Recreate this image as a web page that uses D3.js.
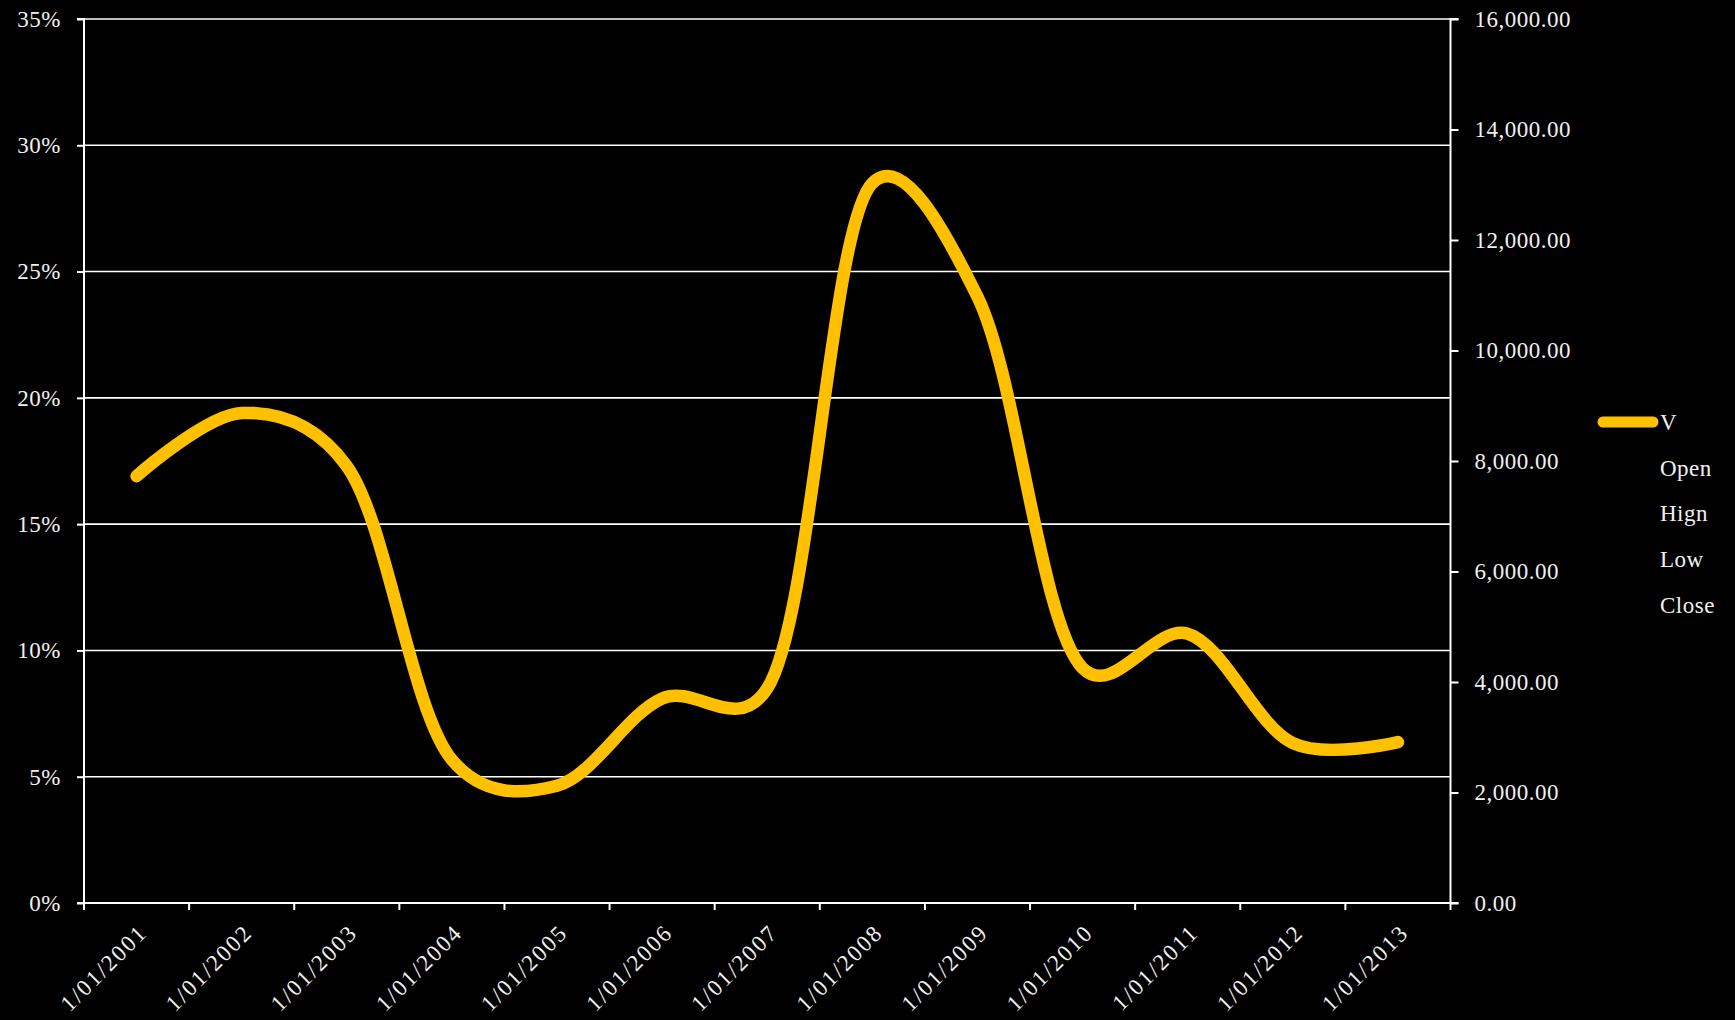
<!DOCTYPE html>
<html>
<head>
<meta charset="utf-8">
<script src="https://cdn.jsdelivr.net/npm/d3@7"></script>
<style>
  html, body { margin: 0; padding: 0; background: #000; }
  svg { display: block; }
  text { font-family: "Liberation Serif", "Times New Roman", serif; fill: #f0f0f0; }
</style>
</head>
<body>
<svg id="chart" width="1735" height="1020"></svg>
<script>
// ---- data ----
const categories = ["1/01/2001","1/01/2002","1/01/2003","1/01/2004","1/01/2005","1/01/2006","1/01/2007","1/01/2008","1/01/2009","1/01/2010","1/01/2011","1/01/2012","1/01/2013"];
const vValues = [0.169, 0.194, 0.173, 0.0567, 0.0464, 0.081, 0.085, 0.285, 0.240, 0.093, 0.1066, 0.0633, 0.0637];
const leftTicks = [0, 0.05, 0.10, 0.15, 0.20, 0.25, 0.30, 0.35];
const rightTicks = [0, 2000, 4000, 6000, 8000, 10000, 12000, 14000, 16000];
const legendNames = ["V", "Open", "Hign", "Low", "Close"];

// ---- layout ----
const W = 1735, H = 1020;
const plot = { left: 84, right: 1450.5, top: 19, bottom: 903 };
const svg = d3.select("#chart");
svg.append("rect").attr("width", W).attr("height", H).attr("fill", "#000");

const x = d3.scaleBand().domain(categories).range([plot.left, plot.right]).paddingInner(0).paddingOuter(0);
const yL = d3.scaleLinear().domain([0, 0.35]).range([plot.bottom, plot.top]);
const yR = d3.scaleLinear().domain([0, 16000]).range([plot.bottom, plot.top]);

const fontSize = 23;
const fontFamily = "'Liberation Serif', 'Times New Roman', serif";
const lineColor = "#FFC000";
const axisColor = "#ffffff";

// gridlines
svg.append("g").selectAll("line").data(leftTicks.filter(d => d > 0)).join("line")
  .attr("x1", plot.left).attr("x2", plot.right)
  .attr("y1", d => yL(d)).attr("y2", d => yL(d))
  .attr("stroke", axisColor).attr("stroke-width", 1.6);

// left axis
const leftAxis = svg.append("g").attr("transform", `translate(${plot.left},0)`)
  .call(d3.axisLeft(yL).tickValues(leftTicks).tickFormat(d3.format(".0%")).tickSize(7).tickPadding(16));
// right axis
const rightAxis = svg.append("g").attr("transform", `translate(${plot.right},0)`)
  .call(d3.axisRight(yR).tickValues(rightTicks).tickFormat(d3.format(",.2f")).tickSize(8).tickPadding(16));
// bottom axis: ticks at category boundaries
const boundaries = categories.map(c => x(c)).concat([plot.right]);
const bottomAxis = svg.append("g").attr("transform", `translate(0,${plot.bottom})`);
bottomAxis.append("line").attr("x1", plot.left).attr("x2", plot.right).attr("y1", 0).attr("y2", 0)
  .attr("stroke", axisColor).attr("stroke-width", 2);
bottomAxis.selectAll("line.tk").data(boundaries).join("line").attr("class", "tk")
  .attr("x1", d => d).attr("x2", d => d).attr("y1", 0).attr("y2", 7)
  .attr("stroke", axisColor).attr("stroke-width", 2);
bottomAxis.selectAll("text").data(categories).join("text")
  .attr("transform", d => `translate(${x(d) + x.bandwidth() / 2 + 12},31) rotate(-45)`)
  .attr("text-anchor", "end")
  .style("font-family", fontFamily)
  .style("font-size", fontSize + "px").style("letter-spacing", "2px")
  .text(d => d);

[leftAxis, rightAxis].forEach(g => {
  g.attr("font-family", null);
  g.select(".domain").attr("stroke", axisColor).attr("stroke-width", 2);
  g.selectAll(".tick line").attr("stroke", axisColor).attr("stroke-width", 2);
  g.selectAll(".tick text").style("font-family", fontFamily)
    .style("font-size", fontSize + "px").style("letter-spacing", "0.5px")
    .attr("fill", "#f0f0f0");
});
leftAxis.select(".domain").attr("d", `M-7,${plot.top}H0V${plot.bottom}H-7`);
rightAxis.select(".domain").attr("d", `M8,${plot.top}H0V${plot.bottom}H8`);

// the V line
const line = d3.line()
  .x((d, i) => x(categories[i]) + x.bandwidth() / 2)
  .y(d => yL(d))
  .curve(d3.curveCatmullRom.alpha(0.25));
svg.append("path").datum(vValues)
  .attr("d", line)
  .attr("fill", "none").attr("stroke", lineColor).attr("stroke-width", 12.5)
  .attr("stroke-linecap", "round").attr("stroke-linejoin", "round");

// legend
const legend = svg.append("g");
const legX = 1660, legY0 = 430, legStep = 45.7;
legend.append("line").attr("x1", 1603).attr("x2", 1653).attr("y1", legY0 - 8).attr("y2", legY0 - 8)
  .attr("stroke", lineColor).attr("stroke-width", 11).attr("stroke-linecap", "round");
legend.selectAll("text").data(legendNames).join("text")
  .attr("x", legX).attr("y", (d, i) => legY0 + i * legStep)
  .style("font-family", fontFamily)
  .style("font-size", fontSize + "px").style("letter-spacing", "0.5px")
  .text(d => d);
</script>
</body>
</html>
